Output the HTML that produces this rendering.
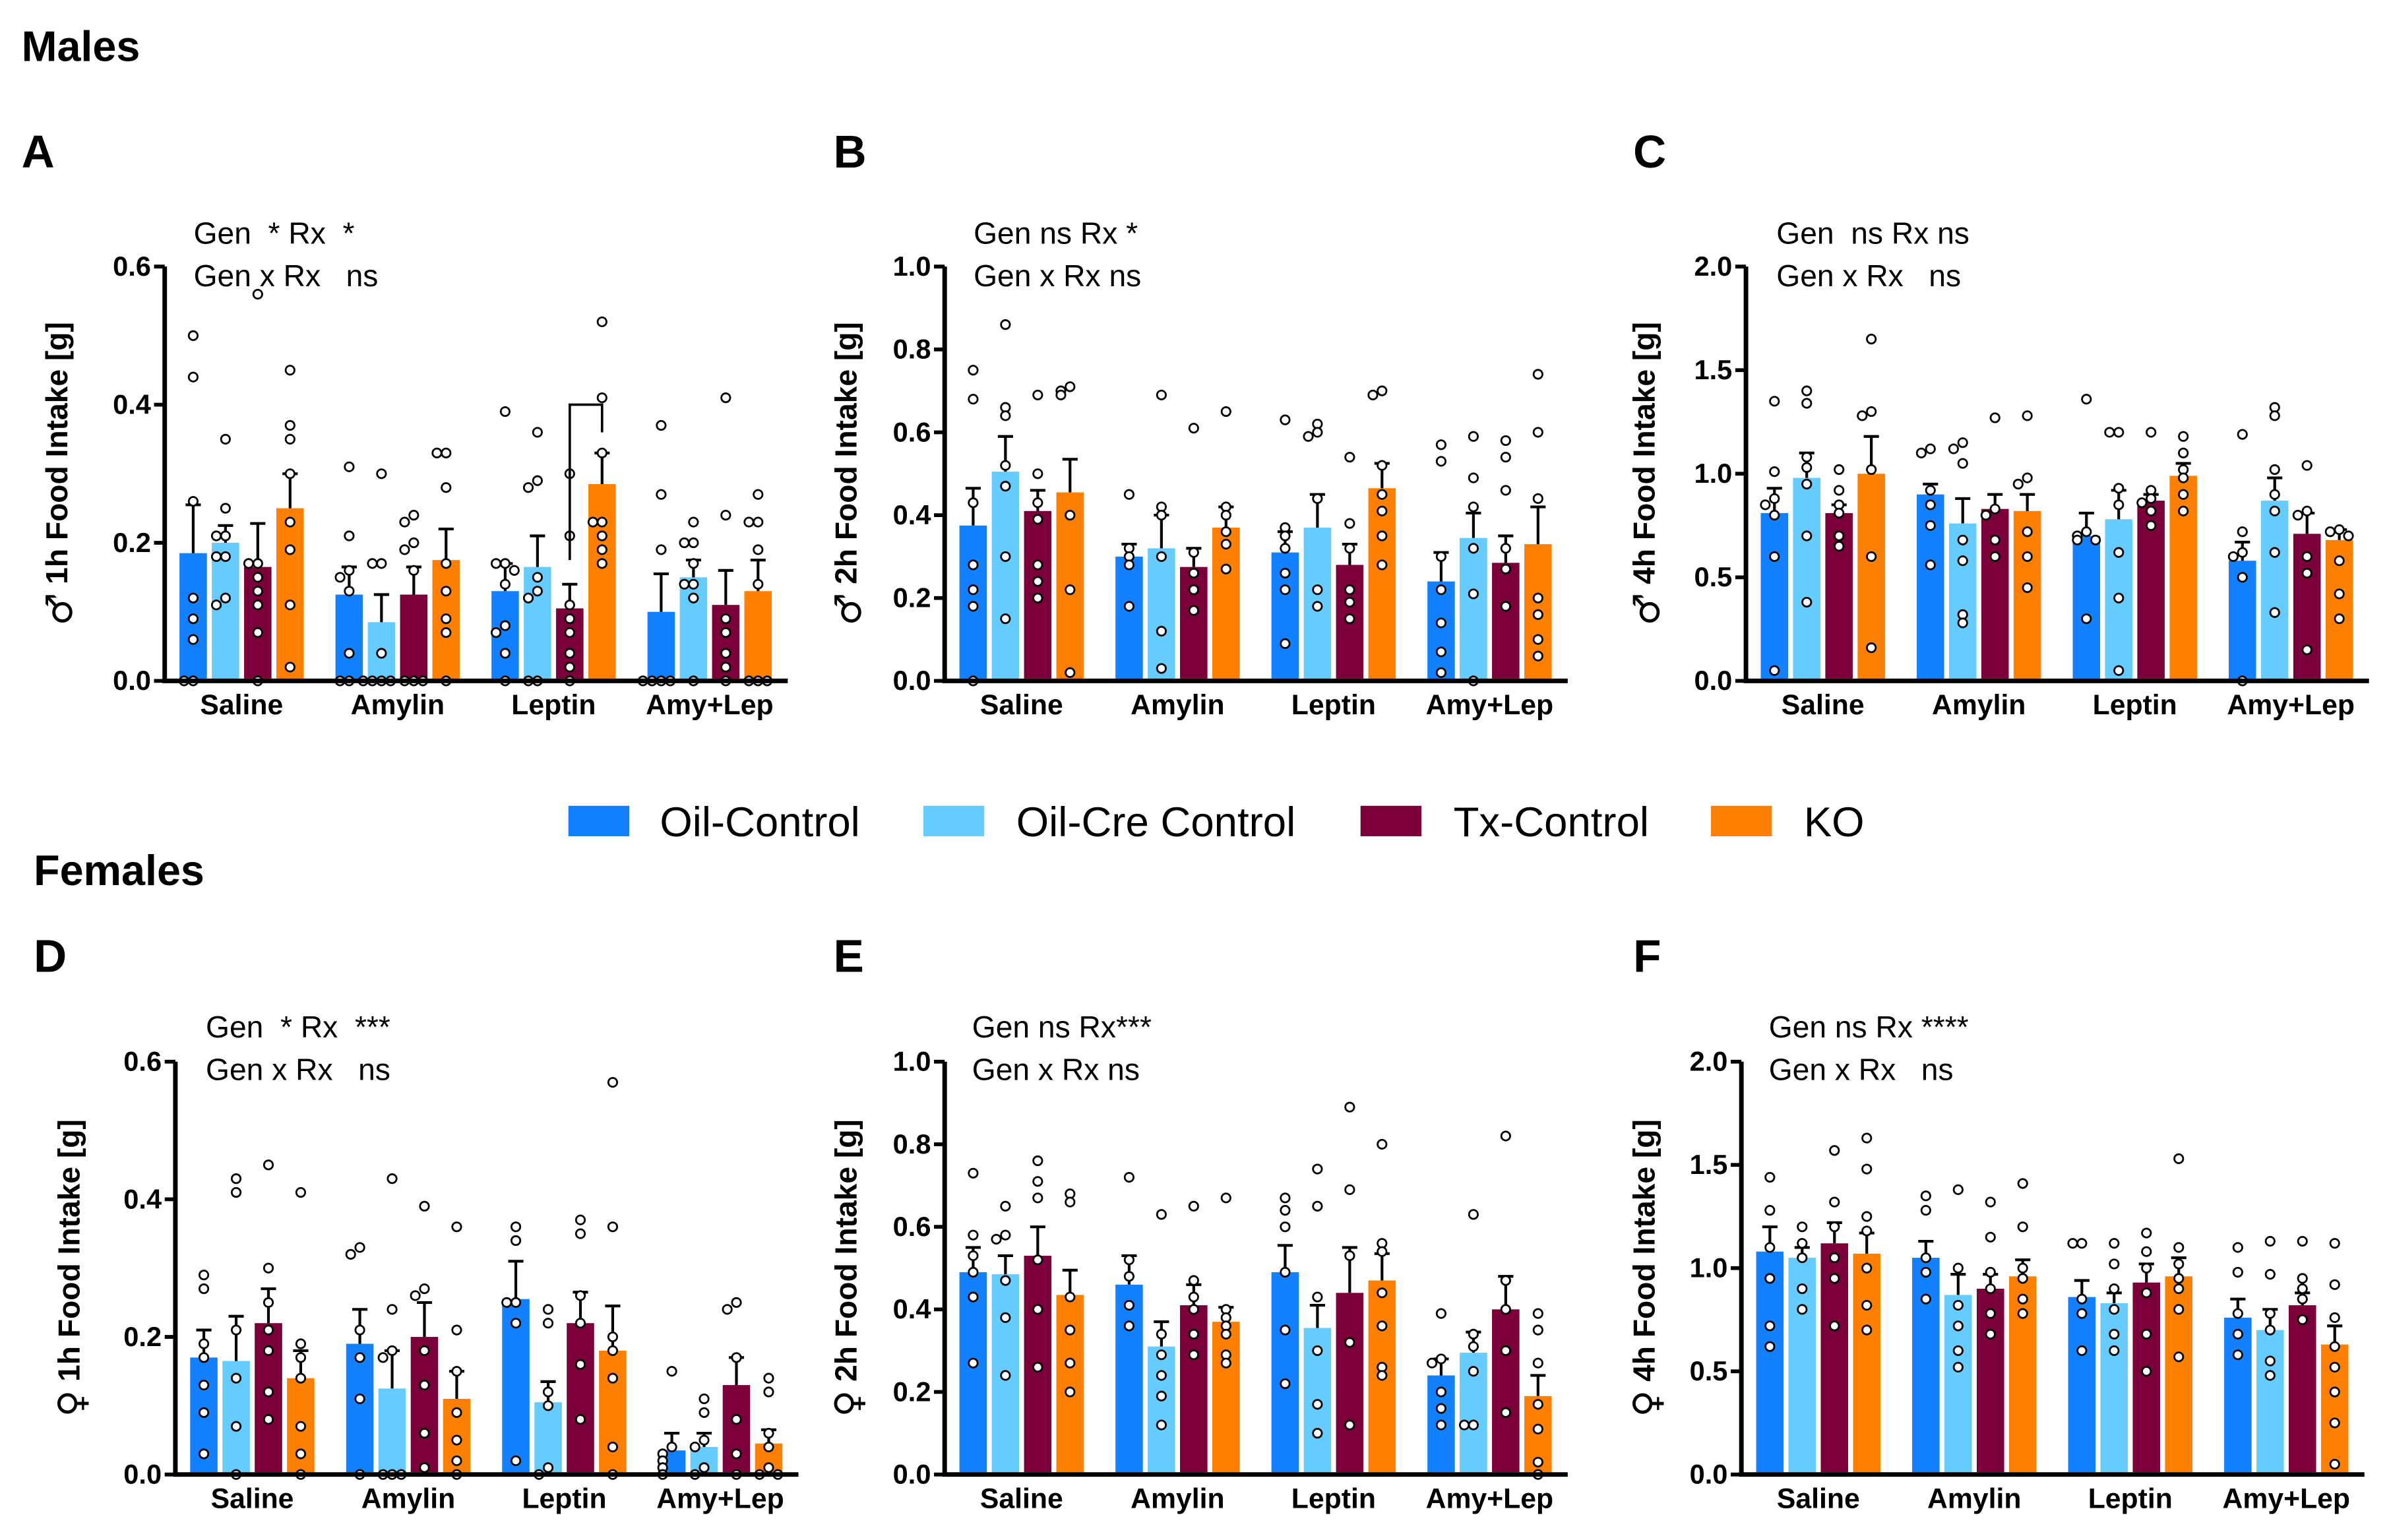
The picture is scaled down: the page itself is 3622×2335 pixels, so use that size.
<!DOCTYPE html>
<html><head><meta charset="utf-8"><style>
html,body{margin:0;padding:0;background:#fff;}
svg{display:block;font-family:"Liberation Sans",Arial,sans-serif;}
</style></head><body>
<svg id="fig" xmlns="http://www.w3.org/2000/svg" width="3622" height="2335" viewBox="0 0 1568 1011">
<rect width="1568" height="1011" fill="#fff"/>
<text x="14" y="40" font-size="28" font-weight="bold">Males</text>
<text x="22" y="581" font-size="28" font-weight="bold">Females</text>
<g font-size="27.5">
<rect x="373" y="529" width="40" height="20" fill="#1380FF"/>
<text x="433" y="549">Oil-Control</text>
<rect x="606" y="529" width="40" height="20" fill="#66CCFF"/>
<text x="667" y="549">Oil-Cre Control</text>
<rect x="893" y="529" width="40" height="20" fill="#7B0039"/>
<text x="954" y="549">Tx-Control</text>
<rect x="1123" y="529" width="40" height="20" fill="#FF8000"/>
<text x="1184" y="549">KO</text>
</g>
</svg>
<script>
const categories = ["Saline","Amylin","Leptin","Amy+Lep"];
const seriesNames = ["Oil-Control","Oil-Cre Control","Tx-Control","KO"];
const colors = ["#1380FF","#66CCFF","#7B0039","#FF8000"];

const meansA = [[0.185,0.20,0.165,0.25],[0.125,0.085,0.125,0.175],[0.13,0.165,0.105,0.285],[0.10,0.15,0.11,0.13]];
const errA = [[0.255,0.225,0.228,0.30],[0.165,0.125,0.165,0.22],[0.17,0.21,0.14,0.33],[0.155,0.175,0.16,0.175]];
const ptsA = [
 [[0.5,0.44,0.26,0.12,0.09,0.06,0,0],[0.35,0.25,0.21,0.21,0.18,0.18,0.12,0.11],[0.56,0.17,0.17,0.15,0.13,0.11,0.07,0],[0.45,0.37,0.35,0.30,0.23,0.19,0.11,0.02]],
 [[0.31,0.21,0.16,0.15,0.13,0.04,0,0],[0.30,0.17,0.17,0.04,0,0,0,0],[0.24,0.23,0.20,0.19,0.16,0,0,0],[0.33,0.33,0.28,0.17,0.13,0.09,0.07,0]],
 [[0.39,0.17,0.17,0.16,0.14,0.08,0.07,0.04,0],[0.36,0.29,0.28,0.15,0.13,0.12,0,0],[0.30,0.21,0.11,0.09,0.07,0.04,0.02,0],[0.52,0.41,0.33,0.23,0.23,0.21,0.19,0.17]],
 [[0.37,0.27,0.19,0,0,0,0],[0.23,0.20,0.20,0.17,0.14,0.14,0.12,0],[0.41,0.24,0.09,0.07,0.04,0.02,0],[0.27,0.23,0.23,0.19,0.14,0,0,0]]];

const meansB = [[0.375,0.505,0.41,0.455],[0.30,0.32,0.275,0.37],[0.31,0.37,0.28,0.465],[0.24,0.345,0.285,0.33]];
const errB = [[0.465,0.59,0.46,0.535],[0.33,0.40,0.32,0.42],[0.36,0.45,0.33,0.525],[0.31,0.405,0.35,0.42]];
const ptsB = [
 [[0.75,0.68,0.43,0.28,0.22,0.18,0],[0.86,0.66,0.64,0.52,0.47,0.30,0.15],[0.69,0.50,0.43,0.39,0.28,0.24,0.20],[0.71,0.70,0.69,0.40,0.22,0.02]],
 [[0.45,0.32,0.30,0.28,0.18],[0.69,0.42,0.40,0.30,0.12,0.03],[0.61,0.31,0.26,0.22,0.17],[0.65,0.42,0.40,0.36,0.33,0.27]],
 [[0.63,0.37,0.35,0.32,0.26,0.22,0.09],[0.62,0.60,0.59,0.44,0.22,0.18],[0.54,0.38,0.32,0.22,0.19,0.15],[0.70,0.69,0.52,0.45,0.41,0.35,0.28]],
 [[0.57,0.53,0.30,0.22,0.14,0.07,0.02],[0.59,0.49,0.42,0.32,0.21,0],[0.58,0.54,0.46,0.32,0.27,0.18],[0.74,0.60,0.44,0.20,0.16,0.10,0.06]]];

const meansC = [[0.81,0.98,0.81,1.0],[0.90,0.76,0.83,0.82],[0.70,0.78,0.87,0.99],[0.58,0.87,0.71,0.68]];
const errC = [[0.93,1.10,0.85,1.18],[0.95,0.88,0.90,0.90],[0.81,0.92,0.90,1.05],[0.67,0.98,0.81,0.73]];
const ptsC = [
 [[1.35,1.01,0.88,0.85,0.80,0.60,0.05],[1.40,1.34,1.08,1.03,0.95,0.70,0.38],[1.02,0.92,0.85,0.81,0.70,0.65],[1.65,1.30,1.28,1.02,0.60,0.16]],
 [[1.12,1.10,0.92,0.85,0.75,0.56],[1.15,1.12,1.05,0.68,0.58,0.32,0.28],[1.27,0.83,0.80,0.68,0.60],[1.28,0.98,0.95,0.72,0.60,0.45]],
 [[1.36,0.72,0.70,0.68,0.68,0.30],[1.20,1.20,0.93,0.85,0.62,0.40,0.05],[1.20,0.92,0.88,0.86,0.82,0.75],[1.18,1.10,1.02,0.98,0.90,0.82]],
 [[1.19,0.72,0.62,0.60,0.50,0.0],[1.32,1.28,1.02,0.90,0.82,0.62,0.33],[1.04,0.82,0.80,0.60,0.52,0.15],[0.73,0.72,0.70,0.58,0.42,0.30]]];

const meansD = [[0.17,0.165,0.22,0.14],[0.19,0.125,0.20,0.11],[0.255,0.105,0.22,0.18],[0.035,0.04,0.13,0.045]];
const errD = [[0.21,0.23,0.27,0.18],[0.24,0.18,0.25,0.15],[0.31,0.135,0.265,0.245],[0.06,0.06,0.17,0.065]];
const ptsD = [
 [[0.29,0.27,0.19,0.17,0.13,0.09,0.03],[0.43,0.41,0.21,0.14,0.07,0],[0.45,0.30,0.25,0.21,0.18,0.12,0.08],[0.41,0.19,0.17,0.14,0.07,0.03,0]],
 [[0.33,0.32,0.21,0.17,0.11,0],[0.43,0.24,0.18,0.17,0,0,0],[0.39,0.27,0.26,0.18,0.13,0.06,0.01],[0.36,0.21,0.15,0.09,0.05,0.02,0]],
 [[0.36,0.34,0.25,0.25,0.22,0.02],[0.24,0.22,0.12,0.10,0.01,0],[0.37,0.35,0.26,0.22,0.16,0.08],[0.57,0.36,0.20,0.18,0.14,0.04,0]],
 [[0.15,0.04,0.03,0.02,0.01,0],[0.11,0.09,0.05,0.04,0.01,0],[0.25,0.24,0.17,0.08,0.03,0],[0.14,0.12,0.06,0.04,0.01,0,0]]];

const meansE = [[0.49,0.485,0.53,0.435],[0.46,0.31,0.41,0.37],[0.49,0.355,0.44,0.47],[0.24,0.295,0.40,0.19]];
const errE = [[0.55,0.53,0.60,0.495],[0.53,0.37,0.46,0.405],[0.555,0.41,0.55,0.535],[0.28,0.345,0.48,0.24]];
const ptsE = [
 [[0.73,0.58,0.53,0.49,0.43,0.27],[0.65,0.58,0.57,0.47,0.38,0.24],[0.76,0.71,0.67,0.52,0.40,0.26],[0.68,0.66,0.43,0.35,0.27,0.20]],
 [[0.72,0.52,0.48,0.41,0.36],[0.63,0.34,0.29,0.24,0.19,0.12],[0.65,0.47,0.43,0.40,0.34,0.29],[0.67,0.40,0.38,0.36,0.34,0.29,0.27]],
 [[0.67,0.64,0.60,0.49,0.35,0.22],[0.74,0.65,0.43,0.30,0.17,0.10],[0.89,0.69,0.53,0.32,0.12],[0.80,0.56,0.54,0.44,0.36,0.26,0.24]],
 [[0.39,0.28,0.27,0.20,0.16,0.12],[0.63,0.34,0.31,0.25,0.12,0.12],[0.82,0.47,0.40,0.30,0.15],[0.39,0.35,0.27,0.17,0.11,0.03,0.0]]];

const meansF = [[1.08,1.05,1.12,1.07],[1.05,0.87,0.90,0.96],[0.86,0.83,0.93,0.96],[0.76,0.70,0.82,0.63]];
const errF = [[1.20,1.10,1.22,1.17],[1.13,0.97,0.97,1.04],[0.94,0.88,1.02,1.05],[0.85,0.80,0.88,0.72]];
const ptsF = [
 [[1.44,1.28,1.10,0.95,0.72,0.62],[1.20,1.12,1.05,0.90,0.80],[1.57,1.32,1.20,1.05,0.95,0.72],[1.63,1.48,1.25,1.18,1.00,0.82,0.70]],
 [[1.35,1.28,1.05,0.98,0.85],[1.38,1.00,0.82,0.72,0.60,0.52],[1.32,1.15,0.98,0.90,0.78,0.68],[1.41,1.20,1.00,0.95,0.85,0.78]],
 [[1.12,1.12,0.85,0.78,0.60],[1.12,1.02,0.90,0.80,0.68,0.60],[1.17,1.08,1.00,0.88,0.68,0.50],[1.53,1.10,1.02,0.95,0.90,0.80,0.57]],
 [[1.10,0.98,0.78,0.68,0.58],[1.13,0.97,0.78,0.70,0.55,0.48],[1.13,0.95,0.90,0.85,0.75],[1.12,0.92,0.76,0.62,0.52,0.40,0.25,0.05]]];

const ticks06 = ["0.0","0.2","0.4","0.6"];
const ticks10 = ["0.0","0.2","0.4","0.6","0.8","1.0"];
const ticks20 = ["0.0","0.5","1.0","1.5","2.0"];

const NS = "http://www.w3.org/2000/svg";
const svg = document.getElementById("fig");
function mk(tag, attrs, parent){const e=document.createElementNS(NS,tag);for(const k in attrs)e.setAttribute(k,attrs[k]);(parent||svg).appendChild(e);return e;}

const panels = [
 {id:"a",letter:"A",lx:14,ly:110,x0:108,top:175,bot:447,max:0.6,ticks:ticks06,means:meansA,errs:errA,pts:ptsA,sym:"♂",ylab:" 1h Food Intake [g]",ylx:44,ann:["Gen  * Rx  *","Gen x Rx   ns"],ax:127,ay:160},
 {id:"b",letter:"B",lx:547,ly:110,x0:620,top:175,bot:447,max:1.0,ticks:ticks10,means:meansB,errs:errB,pts:ptsB,sym:"♂",ylab:" 2h Food Intake [g]",ylx:562,ann:["Gen ns Rx *","Gen x Rx ns"],ax:639,ay:160},
 {id:"c",letter:"C",lx:1072,ly:110,x0:1146,top:175,bot:447,max:2.0,ticks:ticks20,means:meansC,errs:errC,pts:ptsC,sym:"♂",ylab:" 4h Food Intake [g]",ylx:1086,ann:["Gen  ns Rx ns","Gen x Rx   ns"],ax:1166,ay:160},
 {id:"d",letter:"D",lx:22,ly:638,x0:115,top:697,bot:968,max:0.6,ticks:ticks06,means:meansD,errs:errD,pts:ptsD,sym:"♀",ylab:" 1h Food Intake [g]",ylx:52,ann:["Gen  * Rx  ***","Gen x Rx   ns"],ax:135,ay:681},
 {id:"e",letter:"E",lx:547,ly:638,x0:620,top:697,bot:968,max:1.0,ticks:ticks10,means:meansE,errs:errE,pts:ptsE,sym:"♀",ylab:" 2h Food Intake [g]",ylx:562,ann:["Gen ns Rx***","Gen x Rx ns"],ax:638,ay:681},
 {id:"f",letter:"F",lx:1072,ly:638,x0:1143,top:697,bot:968,max:2.0,ticks:ticks20,means:meansF,errs:errF,pts:ptsF,sym:"♀",ylab:" 4h Food Intake [g]",ylx:1086,ann:["Gen ns Rx ****","Gen x Rx   ns"],ax:1161,ay:681}
];

const BW=18, BSTEP=21.2, GSTEP=102.4, OFF=9.7;

panels.forEach(p=>{
  const g = mk("g",{});
  
  
  const y = v => p.bot - (v/p.max)*(p.bot-p.top);
  const bx = (gi,si) => p.x0 + OFF + gi*GSTEP + si*BSTEP;
  const L = mk("text",{x:p.lx,y:p.ly,"font-size":30,"font-weight":"bold"},g); L.textContent=p.letter;
  
  
  p.ann.forEach((t,i)=>{const a=mk("text",{x:p.ax,y:p.ay+i*28,"font-size":20},g);a.style.whiteSpace="pre";a.textContent=t;
    
    });
  const cy=(p.top+p.bot)/2;
  const yl=mk("text",{x:p.ylx,y:cy,"font-size":20,"font-weight":"bold","text-anchor":"middle",transform:`rotate(-90 ${p.ylx} ${cy})`},g);
  
  
  const s=mk("tspan",{"font-size":24,"font-weight":"normal","font-family":"DejaVu Sans, sans-serif",dy:3},yl); s.textContent=p.sym;
  const s2=mk("tspan",{dy:-3},yl); s2.textContent=p.ylab;
  p.means.forEach((grp,gi)=>{
    grp.forEach((m,si)=>{
      const x=bx(gi,si);
      const r=mk("rect",{x:x,y:y(m),width:BW,height:p.bot-y(m)-1.5,fill:colors[si]},g);
      
      
      const cx=x+BW/2, et=y(p.errs[gi][si]);
      const eb=mk("path",{d:`M${cx} ${y(m)}V${et}M${cx-5} ${et}H${cx+5}`,stroke:"#000","stroke-width":1.8,fill:"none"},g);
      
      
    });
  });
  p.pts.forEach((grp,gi)=>{
    grp.forEach((arr,si)=>{
      const cx=bx(gi,si)+BW/2; const placed=[];
      arr.forEach(v=>{
        const yy=y(v); let k=placed.filter(q=>Math.abs(q-yy)<5).length; placed.push(yy);
        const offs=[0,-6,6,-12,12,-3,3];
        const c=mk("circle",{cx:cx+offs[k%7],cy:yy,r:2.9,fill:"#fff",stroke:"#000","stroke-width":1.2},g);
        
        
      });
    });
  });
  const xEnd=p.x0+409;
  const ax=mk("path",{d:`M${p.x0} ${p.top}V${p.bot}H${xEnd}`,stroke:"#000","stroke-width":3,fill:"none"},g);
  
  
  p.ticks.forEach((t,i)=>{
    const v=i*p.max/(p.ticks.length-1), yy=y(v);
    mk("path",{d:`M${p.x0-7} ${yy}H${p.x0}`,stroke:"#000","stroke-width":2.5},g);
    const tl=mk("text",{x:p.x0-9,y:yy+6,"font-size":18,"font-weight":"bold","text-anchor":"end"},g);
    tl.textContent=t;
    
    
  });
  categories.forEach((c,gi)=>{
    const cx=bx(gi,0)+(3*BSTEP+BW)/2;
    const t=mk("text",{x:cx,y:p.bot+22,"font-size":18.5,"font-weight":"bold","text-anchor":"middle"},g);
    t.textContent=c;
    
    
  });
  if(p.id==="a"){
    const x1=bx(2,2)+BW/2, x2=bx(2,3)+BW/2;
    const br=mk("path",{d:`M${x1} ${y(0.175)}V${y(0.4)}H${x2}V${y(0.36)}`,stroke:"#000","stroke-width":1.6,fill:"none"},g);
    
    
  }
});
</script>
</body></html>
